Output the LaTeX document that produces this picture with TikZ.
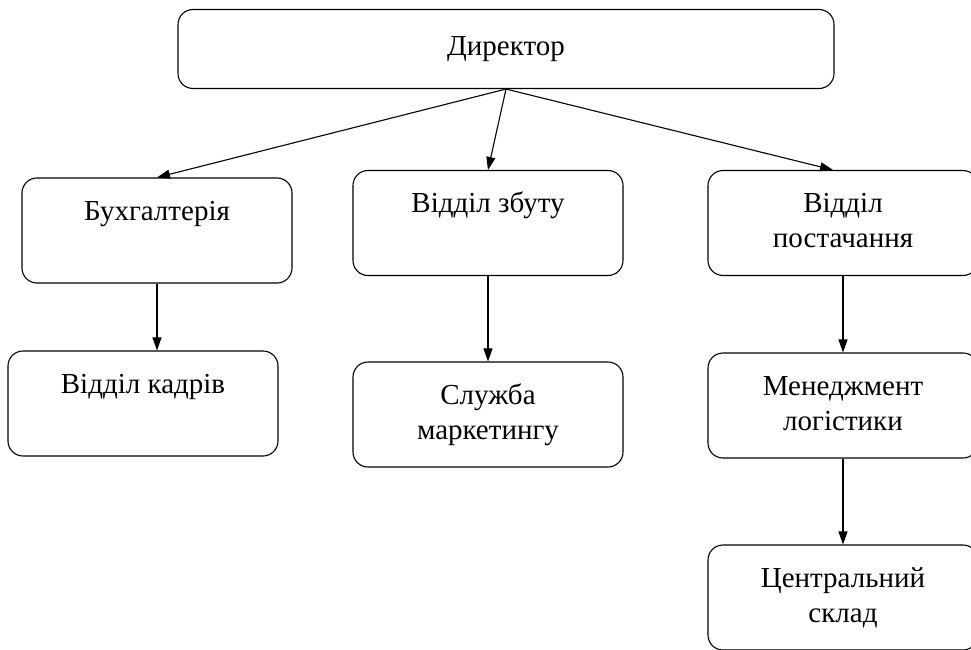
\documentclass[tikz,border=0pt]{standalone}
\usepackage{fontspec}
\setmainfont{Liberation Serif}
\usetikzlibrary{arrows.meta}
\begin{document}
\begin{tikzpicture}
	[x=1pt, y=-1pt,
	unit/.style={draw, rounded corners=15pt, line width=1.1pt,
		minimum width=270pt, minimum height=105pt, inner sep=0pt,
		align=center, font=\fontsize{29}{35}\selectfont},
	head/.style={unit, minimum width=656pt, minimum height=79pt},
	link/.style={-{Triangle[length=13pt,width=9pt]}, line width=1.1pt}]
	\clip (0,0) rectangle (971,650);
	\node[head] (dir) at (506,49) {Директор};
	\node[unit] (buh) at (157,230.5) {\strut Бухгалтерія\\\strut};
	\node[unit] (zbut) at (488,223) {\strut Відділ збуту\\\strut};
	\node[unit] (post) at (843,223) {\strut Відділ\\\strut постачання};
	\node[unit] (kadr) at (143,403.5) {\strut Відділ кадрів\\\strut};
	\node[unit] (mark) at (488,414.5) {\strut Служба\\\strut маркетингу};
	\node[unit] (men) at (843,405.5) {\strut Менеджмент\\\strut логістики};
	\node[unit] (sklad) at (843,597.5) {\strut Центральний\\\strut склад};
	% level 1
	\draw[link] (dir.south) -- (buh.north);
	\draw[link] (dir.south) -- (zbut.north);
	\draw[link] (dir.south) -- ([xshift=-10pt]post.north);
	% level 2
	\draw[link] (buh.south) -- (buh.south |- kadr.north);
	\draw[link] (zbut.south) -- (mark.north);
	\draw[link] (post.south) -- (men.north);
	\draw[link] (men.south) -- (sklad.north);
\end{tikzpicture}
\end{document}
